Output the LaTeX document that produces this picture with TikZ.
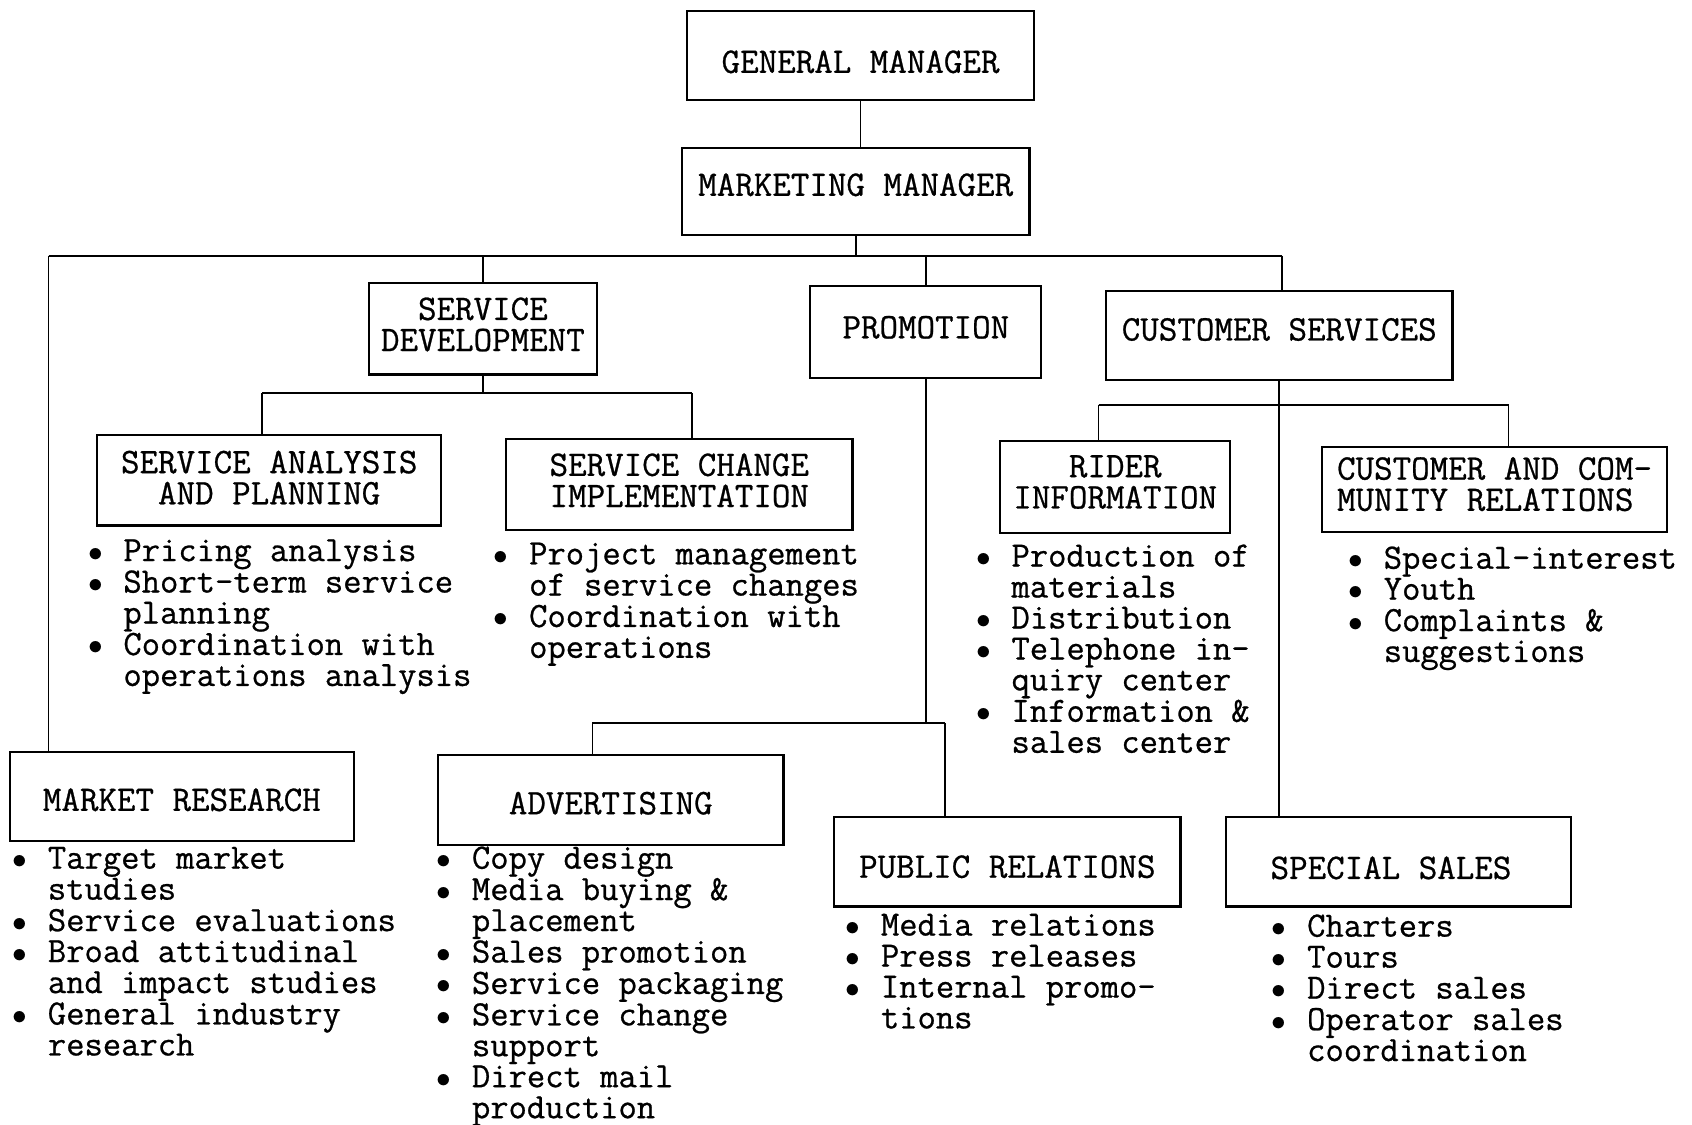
\documentclass[tikz,border=0pt]{standalone}
\usepackage{fontspec}
\usepackage{graphicx}
\newfontfamily\tw{Latin Modern Mono}[FakeBold=0.7]
\usetikzlibrary{calc}
% bullet hanging 14pt to the left of the item text; \nb indents a continuation line
\newcommand\bl{\makebox[14.04pt][l]{\makebox[0pt]{\scalebox{0.85}{$\bullet$}}}}
\newcommand\nb{\hspace*{14.04pt}}
% empty trailing line that lifts a two-line title a little inside its box
\newcommand\lift[1]{\\[#1]\mbox{}}
\tikzset{
  unitfont/.style={font=\tw\fontsize{18}{15.6}\selectfont},
  listfont/.style={font=\tw\fontsize{17.8}{15.45}\selectfont},
  unitbox/.style={draw, line width=1.1pt, rectangle, inner sep=0pt, unitfont, align=center},
  down/.style={text height=11.3pt+2*#1, text depth=0pt},
  up/.style={text height=11.3pt, text depth=2*#1},
  duties/.style={anchor=base west, inner sep=0pt, listfont},
  link/.style={line width=0.9pt},
}
\begin{document}
\begin{tikzpicture}[x=0.54pt, y=-0.54pt]
\path[fill=white,use as bounding box] (0,0) rectangle (1568,1042);

% ---- units ----
\node[unitbox, down=3pt,   minimum width=321*0.54pt, minimum height=83*0.54pt] (gm)  at (797.5,51.5)  {GENERAL MANAGER};
\node[unitbox, up=3.5pt,   minimum width=322*0.54pt, minimum height=81*0.54pt] (mm)  at (793,177.5)   {MARKETING MANAGER};
\node[unitbox, minimum width=211*0.54pt, minimum height=85*0.54pt] (sd)  at (447.5,304.5) {SERVICE\\DEVELOPMENT\lift{-11.3pt}};
\node[unitbox, up=2.4pt,   minimum width=214*0.54pt, minimum height=85*0.54pt] (pro) at (858,307.5)   {PROMOTION};
\node[unitbox, up=3.2pt,   minimum width=321*0.54pt, minimum height=82*0.54pt] (cs)  at (1185.5,311)  {CUSTOMER SERVICES};
\node[unitbox, minimum width=319*0.54pt, minimum height=84*0.54pt] (sap) at (249.5,445)   {SERVICE ANALYSIS\\AND PLANNING\lift{-12.9pt}};
\node[unitbox, minimum width=321*0.54pt, minimum height=84*0.54pt] (sci) at (629.5,449)   {SERVICE CHANGE\\IMPLEMENTATION\lift{-11.3pt}};
\node[unitbox, minimum width=213*0.54pt, minimum height=85*0.54pt] (ri)  at (1033.5,451.5){RIDER\\INFORMATION\lift{-10.2pt}};
\node[unitbox, minimum width=320*0.54pt, minimum height=79*0.54pt, align=left] (ccr) at (1385,453.5) {CUSTOMER AND COM-\\MUNITY RELATIONS\lift{-10.2pt}};
\node[unitbox, down=1.6pt, minimum width=319*0.54pt, minimum height=82*0.54pt] (mr)  at (168.5,738)   {MARKET RESEARCH};
\node[unitbox, down=1.4pt, minimum width=320*0.54pt, minimum height=83*0.54pt] (adv) at (566,741.5)   {ADVERTISING};
\node[unitbox, down=2.4pt, minimum width=321*0.54pt, minimum height=83*0.54pt] (pr)  at (933.5,798.5) {PUBLIC RELATIONS};
\node[unitbox, down=3pt,   minimum width=320*0.54pt, minimum height=83*0.54pt] (ss)  at (1296,798.5)  {\hspace*{-7.5pt}SPECIAL SALES};

% ---- bus junctions ----
\coordinate (busL) at (45,237);
\coordinate (busR) at (1188,237);
\coordinate (sdL) at (243,364);
\coordinate (sdR) at (641,364);
\coordinate (proL) at (549,670);
\coordinate (proR) at (876,670);
\coordinate (csL) at (1018,375);
\coordinate (csR) at (1398,375);

% ---- connectors ----
\draw[link] (gm.south) -- (gm.south |- mm.north);
\draw[link] (mm.south) -- (mm.south |- busL);
\draw[link] (busL) -- (busR);
\draw[link] (busL) -- (busL |- mr.north);
\draw[link] (sd.north |- busL) -- (sd.north);
\draw[link] (pro.north |- busL) -- (pro.north);
\draw[link] (busR) -- (busR |- cs.north);

\draw[link] (sd.south) -- (sd.south |- sdL);
\draw[link] (sdL) -- (sdR);
\draw[link] (sdL) -- (sdL |- sap.north);
\draw[link] (sdR) -- (sdR |- sci.north);

\draw[link] (pro.south) -- (pro.south |- proL);
\draw[link] (proL) -- (proR);
\draw[link] (proL) -- (proL |- adv.north);
\draw[link] (proR) -- (proR |- pr.north);

\draw[link] (cs.south) -- (cs.south |- ss.north);
\draw[link] (csL) -- (csR);
\draw[link] (csL) -- (csL |- ri.north);
\draw[link] (csR) -- (csR |- ccr.north);

% ---- duties of each unit ----
\node[duties] (sapD) at (88,520) {\begin{tabular}[t]{@{}l@{}}
\bl Pricing analysis\\
\bl Short-term service\\
\nb planning\\
\bl Coordination with\\
\nb operations analysis\end{tabular}};

\node[duties] (sciD) at (464,523) {\begin{tabular}[t]{@{}l@{}}
\bl Project management\\
\nb of service changes\\
\bl Coordination with\\
\nb operations\end{tabular}};

\node[duties] (riD) at (911,525) {\begin{tabular}[t]{@{}l@{}}
\bl Production of\\
\nb materials\\
\bl Distribution\\
\bl Telephone in-\\
\nb quiry center\\
\bl Information \&\\
\nb sales center\end{tabular}};

\node[duties] (ccrD) at (1256,527) {\begin{tabular}[t]{@{}l@{}}
\bl Special-interest\\
\bl Youth\\
\bl Complaints \&\\
\nb suggestions\end{tabular}};

\node[duties] (mrD) at (18,805) {\begin{tabular}[t]{@{}l@{}}
\bl Target market\\
\nb studies\\
\bl Service evaluations\\
\bl Broad attitudinal\\
\nb and impact studies\\
\bl General industry\\
\nb research\end{tabular}};

\node[duties] (advD) at (411,805) {\begin{tabular}[t]{@{}l@{}}
\bl Copy design\\
\bl Media buying \&\\
\nb placement\\
\bl Sales promotion\\
\bl Service packaging\\
\bl Service change\\
\nb support\\
\bl Direct mail\\
\nb production\end{tabular}};

\node[duties] (prD) at (790,867) {\begin{tabular}[t]{@{}l@{}}
\bl Media relations\\
\bl Press releases\\
\bl Internal promo-\\
\nb tions\end{tabular}};

\node[duties] (ssD) at (1185,868) {\begin{tabular}[t]{@{}l@{}}
\bl Charters\\
\bl Tours\\
\bl Direct sales\\
\bl Operator sales\\
\nb coordination\end{tabular}};
\end{tikzpicture}
\end{document}
